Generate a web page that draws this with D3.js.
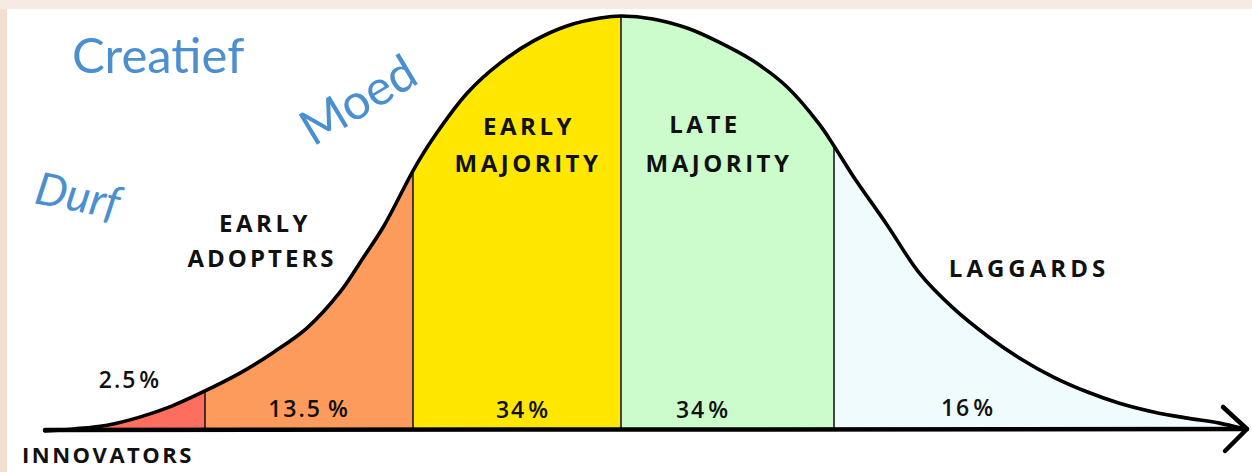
<!DOCTYPE html>
<html>
<head>
<meta charset="utf-8">
<script src="https://cdn.jsdelivr.net/npm/d3@7"></script>
<style>
  html, body { margin: 0; padding: 0; background: #f5ebe2; }
  svg { display: block; }
</style>
</head>
<body>
<div id="chart"></div>
<script>
// adoption curve, x in standard deviations from the mean, y in % of the peak height
const curveSd = [-2.77, -2.63, -2.47, -2.31, -2.16, -2.01, -1.83, -1.67, -1.51, -1.35, -1.24, -1.14,
  -0.99, -0.90, -0.74, -0.58, -0.42, -0.26, -0.10, 0, 0.15, 0.31, 0.46, 0.62, 0.78, 0.93, 1.0,
  1.09, 1.25, 1.40, 1.56, 1.72, 1.87, 2.03, 2.19, 2.34, 2.50, 2.66, 2.81, 2.91];
const curveHeight = [0, 0.5, 1.4, 3.4, 6.0, 9.4, 14.0, 19.0, 24.8, 33.5, 41.7, 49.4,
  63.6, 70.8, 81.4, 88.7, 94.0, 97.6, 99.5, 100, 99.3, 97.1, 93.7, 89.2, 82.9, 74.0, 68.7,
  61.4, 49.6, 38.1, 29.6, 22.9, 17.6, 13.0, 9.4, 6.7, 4.6, 3.1, 1.9, 0.7];

// segments of the curve
const groups = ["Innovators", "Early Adopters", "Early Majority", "Late Majority", "Laggards"];
const groupStart = [-3, -2, -1, 0, 1];
const groupEnd = [-2, -1, 0, 1, 3];
const groupShare = ["2.5", "13.5", "34", "34", "16"];
const groupColor = ["#fd6e5e", "#fd9b5c", "#ffe702", "#ccfccc", "#effbfd"];

// blue words written beside the curve
const words = ["Creatief", "Moed", "Durf"];

const width = 1252, height = 472;

const points = curveSd.map((d, i) => ({sd: d, h: curveHeight[i]}));

// left half is a bit narrower than the right half in the drawing
const x = d3.scaleLinear().domain([-3, 0, 3]).range([-3, 621, 1260]);
const y = d3.scaleLinear().domain([0, 100]).range([431, 16]);

const svg = d3.select("#chart").append("svg")
    .attr("width", width)
    .attr("height", height);

// beige frame, white paper
svg.append("rect").attr("width", width).attr("height", height).attr("fill", "#f5ebe2");
svg.append("rect").attr("x", 0).attr("y", 9).attr("width", 7).attr("height", height).attr("fill", "#f1e0d1");
svg.append("rect").attr("x", 7).attr("y", 9).attr("width", width - 7).attr("height", height - 9).attr("fill", "#fff");

const area = d3.area()
    .x(d => x(d.sd))
    .y0(y(0))
    .y1(d => y(d.h))
    .curve(d3.curveCatmullRom);

const line = d3.line()
    .x(d => x(d.sd))
    .y(d => y(d.h))
    .curve(d3.curveCatmullRom);

const defs = svg.append("defs");
groups.forEach((g, i) => {
  defs.append("clipPath").attr("id", "seg" + i)
    .append("rect")
      .attr("x", x(groupStart[i]))
      .attr("y", 0)
      .attr("width", x(groupEnd[i]) - x(groupStart[i]))
      .attr("height", height);
});
defs.append("clipPath").attr("id", "under")
  .append("path").attr("d", area(points));

// coloured slices
svg.append("g").selectAll("path")
  .data(groups)
  .join("path")
    .attr("d", area(points))
    .attr("clip-path", (d, i) => `url(#seg${i})`)
    .attr("fill", (d, i) => groupColor[i]);

// thin dividers between the slices, only under the curve
svg.append("g")
    .attr("clip-path", "url(#under)")
  .selectAll("line")
  .data(groupStart.slice(1))
  .join("line")
    .attr("x1", d => x(d)).attr("x2", d => x(d))
    .attr("y1", y(0)).attr("y2", 0)
    .attr("stroke", "#1a1a1a")
    .attr("stroke-width", 1.6);

// the bell curve itself
svg.append("path")
    .attr("d", line(points))
    .attr("fill", "none")
    .attr("stroke", "#000")
    .attr("stroke-width", 3.6)
    .attr("stroke-linecap", "round");

// baseline with arrow
const tipX = 1247, baseY = 430;
svg.append("line")
    .attr("x1", 45).attr("x2", tipX)
    .attr("y1", baseY).attr("y2", baseY - 1)
    .attr("stroke", "#000").attr("stroke-width", 4.5)
    .attr("stroke-linecap", "round");
svg.append("path")
    .attr("d", `M${tipX - 24},${baseY - 23} L${tipX},${baseY - 1} L${tipX - 22},${baseY + 21}`)
    .attr("fill", "none")
    .attr("stroke", "#000").attr("stroke-width", 4.5)
    .attr("stroke-linecap", "round").attr("stroke-linejoin", "round");

// hand lettered labels
const hand = svg.append("g")
    .attr("font-family", "'Open Sans', sans-serif")
    .attr("font-weight", 700)
    .attr("fill", "#111")
    .attr("text-anchor", "middle");

const names = [
  {t: "INNOVATORS", x: 108, y: 463, ls: 2.5, fs: 22},
  {t: "EARLY", x: 265, y: 232, ls: 3.5, fs: 24},
  {t: "ADOPTERS", x: 262, y: 267, ls: 3, fs: 24},
  {t: "EARLY", x: 529, y: 135, ls: 3.5, fs: 24},
  {t: "MAJORITY", x: 528, y: 172, ls: 3.5, fs: 24},
  {t: "LATE", x: 705, y: 133, ls: 3.5, fs: 24},
  {t: "MAJORITY", x: 719, y: 172, ls: 3.5, fs: 24},
  {t: "LAGGARDS", x: 1029, y: 277, ls: 4, fs: 24}
];
hand.selectAll("text.name")
  .data(names)
  .join("text")
    .attr("class", "name")
    .attr("x", d => d.x).attr("y", d => d.y)
    .attr("font-size", d => d.fs)
    .attr("letter-spacing", d => d.ls)
    .text(d => d.t);

const sharePos = [[130, 388], [309, 417], [523, 418], [703, 418], [968, 416]];
const share = hand.selectAll("text.share")
  .data(groupShare)
  .join("text")
    .attr("class", "share")
    .attr("x", (d, i) => sharePos[i][0]).attr("y", (d, i) => sharePos[i][1])
    .attr("font-size", 23)
    .attr("font-weight", 600)
    .attr("letter-spacing", 2);
share.append("tspan").text(d => d);
share.append("tspan").attr("dx", d => d.length > 3 ? 6 : 2).text("%");

// blue words
const blue = svg.append("g")
    .attr("font-family", "Lato, 'Open Sans', sans-serif")
    .attr("fill", "#4a8fd0");

blue.append("text")
    .attr("x", 72).attr("y", 73)
    .attr("font-size", 49)
    .text(words[0]);
blue.append("text")
    .attr("transform", "translate(313,147) rotate(-31)")
    .attr("font-size", 49)
    .text(words[1]);
blue.append("text")
    .attr("transform", "translate(33,203) rotate(11)")
    .attr("font-size", 45)
    .attr("font-style", "italic")
    .text(words[2]);
</script>
</body>
</html>
